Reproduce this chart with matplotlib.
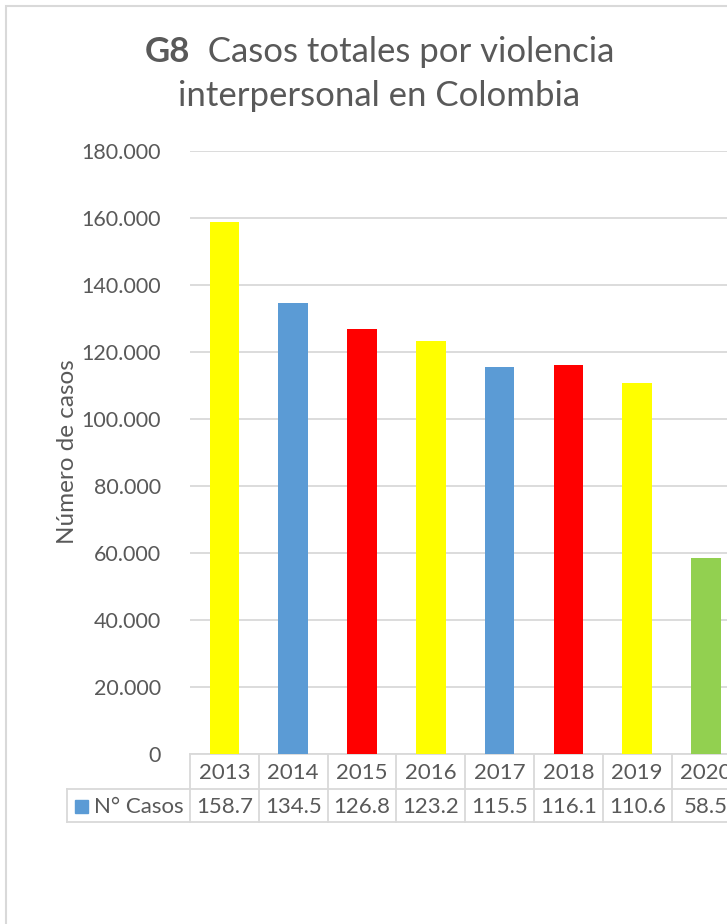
import matplotlib
matplotlib.use("Agg")
import matplotlib.pyplot as plt
from matplotlib.patches import Rectangle
from matplotlib.transforms import blended_transform_factory

years = ["2013", "2014", "2015", "2016", "2017", "2018", "2019", "2020"]
casos = [158700, 134500, 126800, 123200, 115500, 116100, 110600, 58500]
bar_colors = ["#FFFF00", "#5B9BD5", "#FF0000", "#FFFF00",
              "#5B9BD5", "#FF0000", "#FFFF00", "#92D050"]
yticks = list(range(0, 180001, 20000))
serie = "N° Casos"

plt.rcParams["font.family"] = ["Lato", "DejaVu Sans"]
gray = "#595959"
line_gray = "#D9D9D9"

W, H = 727, 924
fig = plt.figure(figsize=(W / 100, H / 100), dpi=100)


def fx(px):
    return px / W


def fy(py):
    return 1 - py / H


# chart area border (runs off the right and bottom of the picture)
fig.patches.append(Rectangle((fx(6), -0.1), 1.0, fy(6) + 0.1, transform=fig.transFigure,
                             fill=False, edgecolor=line_gray, lw=1.5))

cat_w = 68.8
ax = fig.add_axes([fx(190), fy(754), len(years) * cat_w / W, (754 - 151) / H])
x = list(range(len(years)))
ax.bar(x, casos, width=0.43, color=bar_colors, zorder=3)
ax.set_xlim(-0.5, len(years) - 0.5)
ax.set_ylim(0, 180000)
ax.set_yticks(yticks)
ax.set_yticklabels([f"{v:,}".replace(",", ".") for v in yticks])
ax.yaxis.grid(True, color=line_gray, lw=1.3)
ax.set_axisbelow(True)
ax.set_xticks([])
for s in ax.spines.values():
    s.set_visible(False)
ax.tick_params(axis="y", length=0, pad=21, labelsize=15.5, labelcolor=gray)

fig.text(fx(67), fy(452), "Número de casos", rotation=90, ha="center", va="center",
         fontsize=17.5, color=gray)

# data table under the axis
tr = blended_transform_factory(ax.transData, fig.transFigure)
head_left = -0.5 - (190 - 67) / cat_w
right = len(years) - 0.5
kw = dict(transform=tr, color=line_gray, lw=1.3, clip_on=False)
ax.plot([-0.5, right], [fy(754), fy(754)], **kw)
ax.plot([head_left, right], [fy(789), fy(789)], **kw)
ax.plot([head_left, right], [fy(822), fy(822)], **kw)
for i in range(len(years) + 1):
    ax.plot([i - 0.5, i - 0.5], [fy(754), fy(822)], **kw)
ax.plot([head_left, head_left], [fy(789), fy(822)], **kw)

for i, (yr, v) in enumerate(zip(years, casos)):
    ax.text(i, fy(773), yr, transform=tr, ha="center", va="center", fontsize=16,
            color=gray, clip_on=False)
    ax.text(i, fy(807), f"{v / 1000:.1f}", transform=tr, ha="center", va="center",
            fontsize=16, color=gray, clip_on=False)

fig.patches.append(Rectangle((fx(75), fy(813)), 13 / W, 13 / H, transform=fig.transFigure,
                             color="#5B9BD5"))
fig.text(fx(94), fy(807), serie, ha="left", va="center", fontsize=16, color=gray)

# title: bold "G8" followed by regular text, centred as a whole
t1 = fig.text(0, fy(62), "G8", fontsize=25, weight="bold", color=gray, va="baseline")
t2 = fig.text(0, fy(62), "  Casos totales por violencia", fontsize=25, color=gray,
              va="baseline")
fig.text(fx(379), fy(106), "interpersonal en Colombia", fontsize=25, color=gray,
         ha="center", va="baseline")
fig.canvas.draw()
r = fig.canvas.get_renderer()
w1 = t1.get_window_extent(r).width
w2 = t2.get_window_extent(r).width
start = 380 - (w1 + w2) / 2
t1.set_x(fx(start))
t2.set_x(fx(start + w1))

fig.savefig("out.png", dpi=100)
